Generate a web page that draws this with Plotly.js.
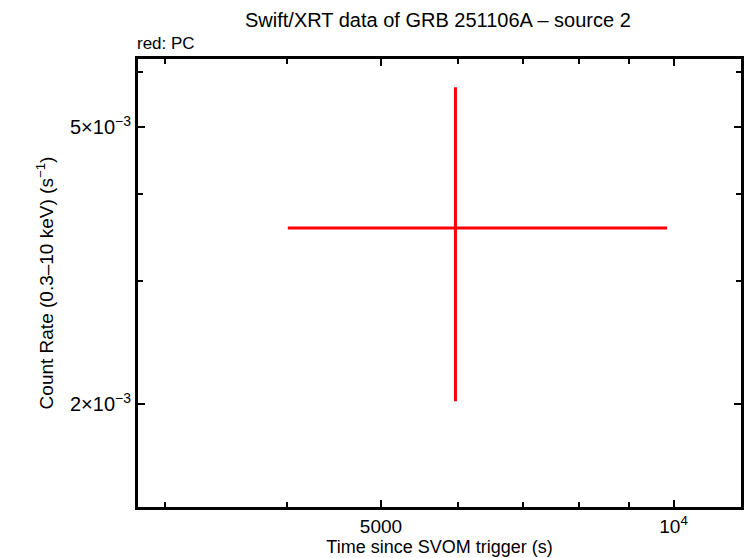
<!DOCTYPE html>
<html>
<head>
<meta charset="utf-8">
<script src="https://cdn.plot.ly/plotly-3.0.1.min.js"></script>
<style>html,body{margin:0;padding:0;background:#fff;}#chart{width:746px;height:558px;}</style>
</head>
<body>
<div id="chart"></div>
<script>
// Data (PC mode, one bin)
const time   = [5965];
const timeLo = [4010];
const timeHi = [9847];
const rate   = [3.58e-3];
const rateLo = [2.017e-3];
const rateHi = [5.70e-3];

const xTickVals = [5000, 10000];
const xTickText = ["5000", "10<sup>4</sup>"];
const xMinorVals = [3000, 4000, 6000, 7000, 8000, 9000];
const yTickVals = [2e-3, 5e-3];
const yTickText = ["2×10<sup>−3</sup>", "5×10<sup>−3</sup>"];
const yMinorVals = [3e-3, 4e-3, 6e-3];

const font = "Liberation Sans, Arial, Helvetica, sans-serif";

const trace = {
  type: "scatter",
  mode: "markers",
  x: time,
  y: rate,
  marker: {size: 0.1, color: "red"},
  error_x: {
    type: "data", symmetric: false,
    array: time.map((t, i) => timeHi[i] - t),
    arrayminus: time.map((t, i) => t - timeLo[i]),
    color: "red", thickness: 3, width: 0
  },
  error_y: {
    type: "data", symmetric: false,
    array: rate.map((r, i) => rateHi[i] - r),
    arrayminus: rate.map((r, i) => r - rateLo[i]),
    color: "red", thickness: 3, width: 0
  },
  hoverinfo: "skip",
  showlegend: false
};

const layout = {
  width: 746, height: 558,
  margin: {l: 138, r: 5, t: 59, b: 51},
  paper_bgcolor: "#fff", plot_bgcolor: "#fff",
  font: {family: font, color: "#000", size: 16},
  title: {
    text: "Swift/XRT data of GRB 251106A – source 2",
    font: {family: font, size: 20, color: "#000"},
    x: 0.587, xanchor: "center", y: 0.964, yanchor: "middle"
  },
  xaxis: {
    type: "log",
    range: [Math.log10(2812), Math.log10(11732)],
    tickmode: "array", tickvals: xTickVals, ticktext: xTickText,
    ticks: "inside", ticklen: 7, tickwidth: 2, tickcolor: "#000",
    minor: {tickmode: "array", tickvals: xMinorVals, ticks: "inside", ticklen: 5, tickwidth: 2, tickcolor: "#000", showgrid: false},
    showline: true, linewidth: 3, linecolor: "#000", mirror: "ticks",
    showgrid: false, zeroline: false,
    tickfont: {family: font, size: 19, color: "#000"},
    title: {text: "Time since SVOM trigger (s)", font: {family: font, size: 18, color: "#000"}, standoff: 4}
  },
  yaxis: {
    type: "log",
    range: [Math.log10(1.422e-3), Math.log10(6.26e-3)],
    tickmode: "array", tickvals: yTickVals, ticktext: yTickText,
    ticks: "inside", ticklen: 7, tickwidth: 2, tickcolor: "#000",
    minor: {tickmode: "array", tickvals: yMinorVals, ticks: "inside", ticklen: 5, tickwidth: 2, tickcolor: "#000", showgrid: false},
    showline: true, linewidth: 3, linecolor: "#000", mirror: "ticks",
    showgrid: false, zeroline: false,
    tickfont: {family: font, size: 20, color: "#000"},
    title: {text: "Count Rate (0.3–10 keV) (s<sup>−1</sup>)", font: {family: font, size: 19, color: "#000"}, standoff: 12}
  },
  annotations: [{
    text: "red: PC", xref: "paper", yref: "paper", x: 0, y: 1, xanchor: "left", yanchor: "bottom",
    yshift: 4, xshift: -3, showarrow: false, font: {family: font, size: 17, color: "#000"}
  }]
};

Plotly.newPlot("chart", [trace], layout, {displayModeBar: false, staticPlot: true});
</script>
</body>
</html>
